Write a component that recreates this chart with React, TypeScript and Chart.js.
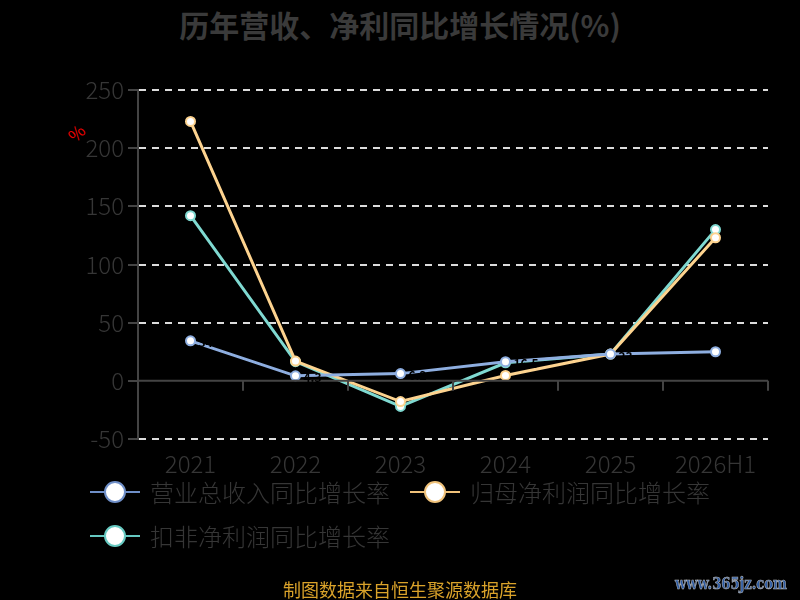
import React, { useEffect, useRef } from 'react';
import { Chart, registerables } from 'chart.js';

Chart.register(...registerables);

const categories = ['2021', '2022', '2023', '2024', '2025', '2026H1'];
const revenueGrowth = [34.4, 4.3, 6.2, 16.5, 23.0, 25.0];
const parentProfitGrowth = [223.0, 17.0, -17.8, 4.6, 23.0, 123.0];
const deductedProfitGrowth = [142.0, 16.5, -22.0, 15.5, 23.0, 130.0];
const seriesNames = ['营业总收入同比增长率', '归母净利润同比增长率', '扣非净利润同比增长率'];
const seriesColors = ['#8eaee0', '#fdd38f', '#7fd9d1'];
const legendLineColors = ['#6f8fc8', '#f0c27a', '#66c9c1'];

const FONT = '"Noto Sans CJK SC", "Noto Sans", sans-serif';

// zero line with category ticks + black value labels (they cut through the lines)
const extrasPlugin = {
  id: 'extras',
  afterDatasetsDraw(chart: any) {
    const { ctx, scales } = chart;
    const x = scales.x;
    const y = scales.y;
    const y0 = y.getPixelForValue(0);
    ctx.save();
    ctx.strokeStyle = '#444';
    ctx.lineWidth = 2;
    ctx.beginPath();
    ctx.moveTo(x.left, y0);
    ctx.lineTo(x.right, y0);
    const n = categories.length;
    for (let i = 1; i <= n; i++) {
      const px = x.left + ((x.right - x.left) * i) / n;
      ctx.moveTo(px, y0);
      ctx.lineTo(px, y0 + 10);
    }
    ctx.stroke();
    ctx.restore();
  },
  afterDraw(chart: any) {
    const { ctx } = chart;
    ctx.save();
    ctx.fillStyle = '#000';
    ctx.font = `bold 12px ${FONT}`;
    ctx.textAlign = 'left';
    ctx.textBaseline = 'middle';
    const ds = chart.data.datasets[0];
    const meta = chart.getDatasetMeta(0);
    meta.data.forEach((pt: any, i: number) => {
      ctx.fillText(String(ds.data[i]), pt.x + 8, pt.y + 2);
    });
    ctx.restore();
  },
};

export default function App() {
  const canvasRef = useRef<HTMLCanvasElement | null>(null);
  const chartRef = useRef<Chart | null>(null);

  useEffect(() => {
    document.body.style.margin = '0';
    document.body.style.background = '#000';
    const ctx = canvasRef.current?.getContext('2d');
    if (!ctx) return;
    try { chartRef.current?.destroy(); } catch {}

    const allData = [revenueGrowth, parentProfitGrowth, deductedProfitGrowth];

    chartRef.current = new Chart(ctx, {
      type: 'line',
      data: {
        labels: categories,
        datasets: allData.map((d, i) => ({
          label: seriesNames[i],
          data: d,
          borderColor: seriesColors[i],
          backgroundColor: '#fff',
          borderWidth: 3,
          pointRadius: 4.5,
          pointBorderWidth: 2,
          pointBorderColor: seriesColors[i],
          pointBackgroundColor: '#fff',
          tension: 0,
        })),
      },
      options: {
        responsive: false,
        animation: false,
        layout: { padding: { top: 90, right: 32, bottom: 121, left: 0 } },
        plugins: {
          legend: { display: false },
          title: { display: false },
          tooltip: { enabled: false },
        },
        scales: {
          x: {
            offset: true,
            grid: { display: false },
            border: { display: false },
            ticks: { color: '#363636', font: { size: 24, family: FONT, weight: '300' }, padding: 2, maxRotation: 0 },
            afterFit: (s: any) => { s.height = 40; },
          },
          y: {
            min: -50,
            max: 250,
            ticks: { stepSize: 50, color: '#363636', font: { size: 24, family: FONT, weight: '300' }, padding: 4 },
            grid: {
              color: (c: any) => (c.tick && c.tick.value === 0 ? 'rgba(0,0,0,0)' : '#dcdcdc'),
              lineWidth: 2,
              tickColor: '#444',
              tickLength: 10,
              tickBorderDash: [],
            },
            border: { display: true, color: '#444', width: 2, dash: [7, 6] },
            afterFit: (s: any) => { s.width = 138; },
          },
        },
      } as any,
      plugins: [extrasPlugin],
    });

    return () => {
      try { chartRef.current?.destroy(); } catch {}
      chartRef.current = null;
    };
  }, []);

  const legendIcon = (i: number) => (
    <span style={{ position: 'relative', display: 'inline-block', width: 50, height: 24, marginRight: 10 }}>
      <span style={{ position: 'absolute', left: 0, right: 0, top: 11, height: 2, background: legendLineColors[i] }} />
      <span
        style={{
          position: 'absolute', left: 14, top: 1, width: 18, height: 18, borderRadius: '50%',
          background: '#fff', border: `2px solid ${legendLineColors[i]}`,
        }}
      />
    </span>
  );

  const legendItem = (i: number, left: number, top: number) => (
    <div
      style={{
        position: 'absolute', left, top, display: 'flex', alignItems: 'center',
        color: '#363636', fontSize: 24, fontFamily: FONT, fontWeight: 300, whiteSpace: 'nowrap', lineHeight: '28px',
      }}
    >
      {legendIcon(i)}
      <span>{seriesNames[i]}</span>
    </div>
  );

  return (
    <div style={{ position: 'relative', width: 800, height: 600, background: '#000', overflow: 'hidden' }}>
      <div
        style={{
          position: 'absolute', left: 0, top: 2, width: 800, textAlign: 'center',
          fontFamily: FONT, fontWeight: 'bold', fontSize: 30, color: '#3a3a3a',
        }}
      >
        历年营收、净利同比增长情况(%)
      </div>
      <div style={{ position: 'absolute', left: 68, top: 120, color: '#e00', fontSize: 17, fontFamily: FONT, transform: 'rotate(-45deg)' }}>
        %
      </div>
      <canvas ref={canvasRef} width={800} height={600} style={{ position: 'absolute', left: 0, top: 0 }} />
      {legendItem(0, 90, 478)}
      {legendItem(1, 410, 478)}
      {legendItem(2, 90, 522)}
      <div
        style={{
          position: 'absolute', left: 0, top: 576, width: 800, textAlign: 'center',
          color: '#d9a22a', fontSize: 18, fontFamily: FONT,
        }}
      >
        制图数据来自恒生聚源数据库
      </div>
      <div
        style={{
          position: 'absolute', left: 675, top: 574, color: '#2b5aa3', fontSize: 16, fontWeight: 'bold',
          fontFamily: '"DejaVu Serif", serif', WebkitTextStroke: '0.6px #bbb',
          transform: 'scaleX(0.82)', transformOrigin: 'left top',
        }}
      >
        www.365jz.com
      </div>
    </div>
  );
}
